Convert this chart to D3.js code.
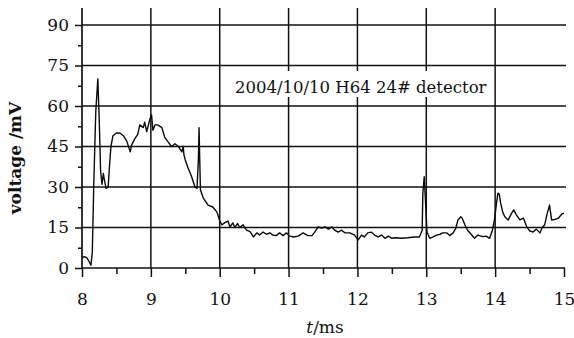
<!DOCTYPE html>
<html>
<head>
<meta charset="utf-8">
<script src="https://cdn.jsdelivr.net/npm/d3@7"></script>
<style>
  body { margin: 0; background: #fff; }
  text { font-family: "DejaVu Serif", serif; fill: #111; }
</style>
</head>
<body>
<div id="chart"></div>
<script>
// time axis (ms) and detector voltage (mV)
const timeMs = [
  8.00, 8.03, 8.07, 8.10, 8.13, 8.15, 8.17, 8.20, 8.23, 8.25, 8.27, 8.29, 8.31, 8.33, 8.35, 8.38,
  8.40, 8.42, 8.45, 8.50, 8.55, 8.60, 8.65, 8.70, 8.72, 8.77, 8.81, 8.84, 8.89, 8.91, 8.94, 8.99,
  9.01, 9.03, 9.06, 9.10, 9.16, 9.20, 9.25, 9.30, 9.35, 9.40, 9.45, 9.47, 9.48, 9.50, 9.54, 9.59,
  9.64, 9.67, 9.69, 9.70, 9.71, 9.72, 9.76, 9.83, 9.90, 9.96, 10.00, 10.03, 10.07, 10.12, 10.15,
  10.19, 10.22, 10.26, 10.29, 10.34, 10.39, 10.44, 10.49, 10.54, 10.58, 10.63, 10.68, 10.73, 10.77,
  10.82, 10.87, 10.92, 10.97, 11.02, 11.07, 11.14, 11.21, 11.28, 11.34, 11.38, 11.43, 11.48, 11.53,
  11.58, 11.63, 11.67, 11.72, 11.77, 11.82, 11.89, 11.96, 12.01, 12.06, 12.10, 12.15, 12.20, 12.25,
  12.30, 12.35, 12.40, 12.45, 12.50, 12.55, 12.64, 12.73, 12.83, 12.90, 12.94, 12.95, 12.97, 12.99,
  13.01, 13.05, 13.10, 13.15, 13.20, 13.24, 13.30, 13.34, 13.39, 13.43, 13.46, 13.50, 13.52, 13.56,
  13.60, 13.66, 13.70, 13.75, 13.82, 13.87, 13.92, 13.96, 13.99, 14.02, 14.04, 14.06, 14.08, 14.11,
  14.14, 14.19, 14.24, 14.27, 14.31, 14.36, 14.41, 14.46, 14.50, 14.55, 14.60, 14.65, 14.68, 14.72,
  14.75, 14.79, 14.82, 14.87, 14.92, 14.97, 15.00
];
const voltageMv = [
  3.8, 4.2, 3.8, 2.5, 1.0, 6, 30, 58, 70, 55, 36, 31, 35, 32, 29.5, 30,
  38, 45, 49, 50, 50, 49, 47, 43, 45.5, 48, 49.5, 53, 52, 54, 50.5, 55.5,
  56.7, 51, 53, 53, 52, 48.5, 46.7, 45, 46, 45, 43, 45, 42, 40, 37, 34,
  30, 29.5, 40, 52, 40, 29, 26, 23.3, 22.6, 20.7, 17.5, 16, 16.7, 17.4, 15.2,
  16.7, 15, 16.5, 15, 16, 14, 13.5, 11.5, 13, 12.2, 13.3, 12.5, 13, 12.2,
  12, 13, 12, 13, 11.8, 11.5, 11.8, 13, 12, 12, 13.3, 15.2, 14.8, 15.2,
  14.4, 15.2, 14, 13.3, 14, 13, 13, 12.2, 10.4, 12.2, 11.5, 13, 13.3, 12.2,
  11.5, 12.2, 11, 11.8, 11, 11.2, 11, 11.2, 11.5, 11.5, 14, 27.7, 33.8, 24,
  13.3, 11, 11.5, 12.2, 12.5, 13, 13, 12, 13, 14.8, 17.8, 19, 18.5, 16,
  14, 12.2, 11, 12.2, 11.6, 11.8, 11, 14, 17.8, 24, 27.7, 27.4, 24, 20.7,
  19, 17.8, 20.3, 21.5, 19.6, 17.8, 18.5, 15.2, 13.8, 13.3, 14.4, 13, 14.8, 16,
  19.6, 23.3, 17.8, 18, 18.5, 20, 20.3
];

const xTicks = [8, 9, 10, 11, 12, 13, 14, 15];
const xMinorTicks = [8.5, 9.5, 10.5, 11.5, 12.5, 13.5, 14.5];
const yTicks = [0, 15, 30, 45, 60, 75, 90];
const yMinorTicks = [7.5, 22.5, 37.5, 52.5, 67.5, 82.5];
const note = '2004/10/10 H64 24# detector';

const width = 574, height = 338;
const plotLeft = 82, plotRight = 564, plotTop = 8, plotBottom = 268;

const svg = d3.select('#chart').append('svg')
  .attr('width', width)
  .attr('height', height);

const x = d3.scaleLinear().domain([8, 15]).range([plotLeft, plotRight]);
const y = d3.scaleLinear().domain([0, 90]).range([plotBottom, 25]);

const ink = '#111';

// horizontal grid
svg.append('g')
  .selectAll('line')
  .data(yTicks.slice(1))
  .enter()
  .append('line')
  .attr('x1', plotLeft).attr('x2', plotRight + 2)
  .attr('y1', d => y(d)).attr('y2', d => y(d))
  .attr('stroke', ink).attr('stroke-width', 1.5);

// vertical grid
svg.append('g')
  .selectAll('line')
  .data(xTicks.slice(1, -1))
  .enter()
  .append('line')
  .attr('x1', d => x(d)).attr('x2', d => x(d))
  .attr('y1', plotBottom).attr('y2', plotTop)
  .attr('stroke', ink).attr('stroke-width', 1.5);

// annotation with white box behind it
const noteG = svg.append('g');
const noteText = noteG.append('text')
  .attr('x', 235)
  .attr('y', 93)
  .style('font-size', '16.5px')
  .text(note);
const bb = noteText.node().getBBox();
noteG.insert('rect', 'text')
  .attr('x', bb.x - 3).attr('y', 71)
  .attr('width', bb.width + 6).attr('height', 26)
  .attr('fill', '#fff');

// trace
const line = d3.line()
  .x(i => x(timeMs[i]))
  .y(i => y(voltageMv[i]));

svg.append('path')
  .datum(d3.range(timeMs.length))
  .attr('d', line)
  .attr('fill', 'none')
  .attr('stroke', '#0a0a0a')
  .attr('stroke-width', 1.4)
  .attr('stroke-linejoin', 'round');

// axes
svg.append('g')
  .attr('transform', 'translate(0,' + plotBottom + ')')
  .call(d3.axisBottom(x).tickValues(xTicks).tickSize(9).tickPadding(16).tickFormat(d3.format('d')));
svg.append('g')
  .attr('transform', 'translate(0,' + plotBottom + ')')
  .call(d3.axisBottom(x).tickValues(xMinorTicks).tickSize(6).tickFormat(''));

svg.append('g')
  .attr('transform', 'translate(' + plotLeft + ',0)')
  .call(d3.axisLeft(y).tickValues(yTicks).tickSize(7).tickPadding(6).tickFormat(d3.format('d')));
svg.append('g')
  .attr('transform', 'translate(' + plotLeft + ',0)')
  .call(d3.axisLeft(y).tickValues(yMinorTicks).tickSize(4).tickFormat(''));

svg.selectAll('.domain').remove();
svg.selectAll('.tick line').attr('stroke', ink).attr('stroke-width', 1.5);
svg.selectAll('.tick text').style('font-size', '17px').style('font-family', '"DejaVu Serif", serif').attr('fill', '#111');

// axis lines
svg.append('line')
  .attr('x1', plotLeft).attr('x2', plotLeft).attr('y1', plotBottom + 1).attr('y2', plotTop)
  .attr('stroke', ink).attr('stroke-width', 1.7);
svg.append('line')
  .attr('x1', plotLeft).attr('x2', plotRight + 1).attr('y1', plotBottom).attr('y2', plotBottom)
  .attr('stroke', ink).attr('stroke-width', 1.7);

// axis titles
const xt = svg.append('text')
  .attr('x', 325).attr('y', 333)
  .attr('text-anchor', 'middle')
  .style('font-size', '17px');
xt.append('tspan').style('font-style', 'italic').text('t');
xt.append('tspan').text('/ms');

svg.append('text')
  .attr('transform', 'translate(21,158) rotate(-90)')
  .attr('text-anchor', 'middle')
  .style('font-size', '17px')
  .style('font-weight', 'bold')
  .text('voltage /mV');
</script>
</body>
</html>
